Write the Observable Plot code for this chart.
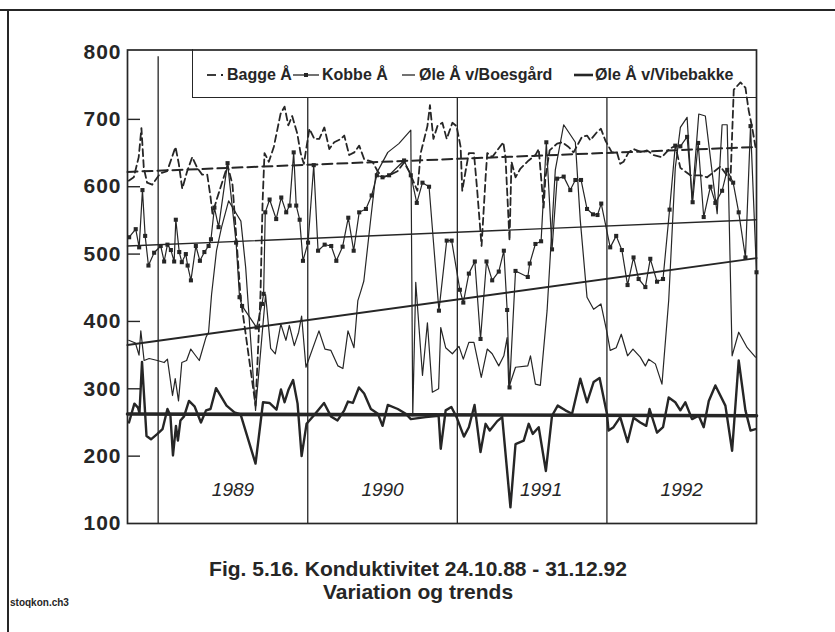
<!DOCTYPE html>
<html><head><meta charset="utf-8">
<script src="https://cdn.jsdelivr.net/npm/d3@7"></script>
<script src="https://cdn.jsdelivr.net/npm/@observablehq/plot@0.6"></script>
<style>
body{margin:0;background:#fff;}
#page{position:relative;width:835px;height:632px;overflow:hidden;font-family:"Liberation Sans",Arial,sans-serif;color:#262626;background:#fff;}
#chart{position:absolute;left:0;top:0;}
.hl{position:absolute;background:#262626;}
#legend{position:absolute;left:192px;top:49px;width:564px;height:49px;box-sizing:border-box;border-left:1.6px solid #262626;border-bottom:1.6px solid #262626;}
.li{position:absolute;top:1px;height:49px;display:flex;align-items:center;font-weight:bold;font-size:16px;white-space:nowrap;}
#title,#subtitle{position:absolute;left:0;width:836px;text-align:center;font-weight:bold;font-size:21px;line-height:20px;}
#file{position:absolute;left:10px;top:597px;font-weight:bold;font-size:10px;}
#chart g[aria-label="y-axis tick label"] text{letter-spacing:1px;}
</style></head><body>
<div id="page">
  <div id="chart"></div>
  <div class="hl" style="left:0;top:9px;width:835px;height:2px"></div>
  <div class="hl" style="left:7px;top:9px;width:1.6px;height:623px"></div>
  <div id="legend"></div>
  <div id="title" style="top:559px">Fig. 5.16. Konduktivitet 24.10.88 - 31.12.92</div>
  <div id="subtitle" style="top:582px">Variation og trends</div>
  <div id="file">stoqkon.ch3</div>
</div>
<script>
const INK = "#262626";
// y ticks
const yTicks = [100, 200, 300, 400, 500, 600, 700, 800];
const yTickMarks = [200, 300, 400, 500, 600, 700];
// year boundaries and labels (label anchor in decimal years)
const yearBounds = [1989, 1990, 1991, 1992];
const yearLabels = ["1989", "1990", "1991", "1992"];
const yearLabelAt = [1989.5, 1990.5, 1991.56, 1992.5];
const seriesNames = ["Bagge Å", "Kobbe Å", "Øle Å v/Boesgård", "Øle Å v/Vibebakke"];

// Bagge Å (decimal year, µS/cm)
const bagT = [1988.803,1988.837,1988.870,1988.888,1988.904,1988.926,1988.960,1989.015,1989.060,1989.116,1989.138,1989.161,1989.194,1989.228,1989.261,1989.294,1989.328,1989.350,1989.363,1989.390,1989.464,1989.497,1989.551,1989.651,1989.684,1989.698,1989.711,1989.740,1989.773,1989.818,1989.845,1989.870,1989.896,1989.930,1989.952,1989.974,1990.011,1990.044,1990.077,1990.111,1990.144,1990.177,1990.222,1990.244,1990.277,1990.311,1990.344,1990.377,1990.433,1990.467,1990.500,1990.544,1990.600,1990.644,1990.677,1990.733,1990.755,1990.800,1990.817,1990.840,1990.867,1990.900,1990.929,1990.967,1990.995,1991.022,1991.033,1991.055,1991.077,1991.111,1991.133,1991.162,1991.189,1991.200,1991.233,1991.267,1991.307,1991.322,1991.349,1991.362,1991.389,1991.422,1991.477,1991.522,1991.544,1991.577,1991.589,1991.617,1991.667,1991.700,1991.744,1991.777,1991.833,1991.867,1991.889,1991.933,1991.960,1991.989,1992.033,1992.067,1992.089,1992.111,1992.145,1992.178,1992.234,1992.268,1992.312,1992.368,1992.413,1992.457,1992.491,1992.558,1992.625,1992.670,1992.759,1992.792,1992.826,1992.848,1992.893,1992.926,1992.948,1992.971,1992.993];
const bagV = [609,614,644,687,628,606,603,620,623,659,634,597,623,644,628,618,618,585,560,580,632,603,436,275,440,577,650,637,659,708,719,691,705,679,650,634,686,671,671,688,656,666,671,676,647,651,661,641,637,623,614,617,623,636,623,594,650,690,721,671,690,695,671,695,690,659,594,623,650,650,594,512,614,650,644,654,666,644,520,637,614,627,639,647,656,569,614,654,664,666,659,651,674,676,669,681,686,669,651,651,634,637,651,656,651,654,647,644,655,661,628,617,617,614,630,620,609,744,755,747,713,688,659];

// Kobbe Å
const kobT = [1988.806,1988.850,1988.873,1988.895,1988.913,1988.935,1988.973,1989.017,1989.040,1989.062,1989.085,1989.107,1989.118,1989.141,1989.158,1989.185,1989.197,1989.219,1989.252,1989.279,1989.309,1989.337,1989.353,1989.376,1989.404,1989.464,1989.521,1989.544,1989.561,1989.658,1989.694,1989.705,1989.716,1989.745,1989.789,1989.823,1989.856,1989.879,1989.906,1989.923,1989.946,1989.968,1990.002,1990.040,1990.069,1990.113,1990.157,1990.191,1990.233,1990.271,1990.307,1990.344,1990.389,1990.427,1990.462,1990.500,1990.544,1990.644,1990.689,1990.729,1990.767,1990.811,1990.877,1990.929,1990.962,1991.017,1991.040,1991.077,1991.117,1991.155,1991.195,1991.233,1991.277,1991.311,1991.333,1991.349,1991.389,1991.471,1991.484,1991.522,1991.560,1991.595,1991.633,1991.667,1991.711,1991.755,1991.789,1991.827,1991.867,1991.907,1991.937,1991.962,1992.022,1992.062,1992.100,1992.138,1992.178,1992.212,1992.257,1992.290,1992.335,1992.375,1992.419,1992.457,1992.491,1992.536,1992.573,1992.610,1992.647,1992.692,1992.725,1992.770,1992.804,1992.844,1992.881,1992.926,1992.960,1993.000];
const kobV = [525,537,510,595,527,483,502,512,489,514,506,489,551,503,488,500,483,461,512,490,503,512,522,569,540,635,517,436,423,391,426,441,562,581,552,584,562,572,651,572,551,490,517,632,505,514,512,490,511,554,505,562,567,587,617,614,617,639,617,576,606,600,416,520,520,447,428,471,489,374,489,461,474,505,417,302,475,466,486,515,519,666,507,612,615,595,610,610,567,559,558,575,510,527,506,454,495,463,451,493,459,463,566,661,660,674,577,665,555,600,576,594,625,606,562,495,690,473];

// Øle Å v/Boesgård
const boeT = [1988.803,1988.848,1988.872,1988.884,1988.906,1988.940,1988.995,1989.040,1989.062,1989.096,1989.114,1989.136,1989.158,1989.190,1989.218,1989.241,1989.275,1989.319,1989.337,1989.357,1989.390,1989.424,1989.471,1989.531,1989.553,1989.585,1989.651,1989.718,1989.752,1989.783,1989.820,1989.854,1989.877,1989.910,1989.939,1989.959,1989.988,1990.075,1990.115,1990.155,1990.202,1990.235,1990.269,1990.309,1990.335,1990.355,1990.375,1990.422,1990.455,1990.535,1990.609,1990.689,1990.702,1990.722,1990.767,1990.800,1990.833,1990.875,1990.889,1990.922,1990.967,1991.011,1991.040,1991.077,1991.111,1991.160,1991.200,1991.233,1991.277,1991.311,1991.333,1991.344,1991.389,1991.471,1991.489,1991.522,1991.555,1991.600,1991.655,1991.711,1991.789,1991.822,1991.867,1991.911,1991.960,1992.000,1992.022,1992.062,1992.096,1992.138,1992.174,1992.223,1992.257,1992.279,1992.324,1992.368,1992.413,1992.457,1992.491,1992.536,1992.569,1992.614,1992.658,1992.737,1992.770,1992.804,1992.837,1992.881,1992.938,1992.993];
const boeV = [372,368,350,386,342,345,342,339,344,290,315,282,339,342,359,352,342,376,384,440,505,540,579,557,549,480,268,440,360,352,396,372,394,364,384,408,332,386,359,357,334,330,386,361,431,445,460,554,618,651,664,684,260,458,320,398,295,300,391,361,352,363,344,369,369,317,359,352,334,349,376,302,332,334,349,307,305,416,625,692,666,550,436,418,426,384,357,361,381,349,359,347,334,344,337,307,431,628,688,703,579,708,705,560,692,692,349,384,361,347];

// Øle Å v/Vibebakke
const vibT = [1988.805,1988.841,1988.865,1988.875,1988.892,1988.922,1988.952,1988.995,1989.029,1989.062,1989.082,1989.099,1989.119,1989.132,1989.149,1989.173,1989.206,1989.243,1989.286,1989.320,1989.350,1989.387,1989.457,1989.510,1989.551,1989.651,1989.701,1989.744,1989.791,1989.821,1989.845,1989.872,1989.902,1989.932,1989.959,1989.992,1990.039,1990.109,1990.155,1990.199,1990.244,1990.269,1990.302,1990.342,1990.377,1990.422,1990.469,1990.500,1990.535,1990.602,1990.655,1990.689,1990.789,1990.875,1990.889,1990.922,1990.960,1990.995,1991.044,1991.077,1991.115,1991.155,1991.189,1991.217,1991.267,1991.300,1991.355,1991.389,1991.444,1991.477,1991.504,1991.544,1991.592,1991.633,1991.671,1991.722,1991.767,1991.822,1991.867,1991.911,1991.951,1992.000,1992.011,1992.044,1992.089,1992.138,1992.178,1992.223,1992.263,1992.285,1992.335,1992.375,1992.413,1992.457,1992.491,1992.524,1992.569,1992.614,1992.647,1992.681,1992.725,1992.792,1992.837,1992.881,1992.926,1992.960,1992.993];
const vibV = [250,278,272,264,340,230,225,233,240,270,260,201,245,223,253,259,282,274,250,268,270,301,275,265,262,189,280,279,269,299,280,299,313,278,200,248,260,279,259,253,268,281,279,302,293,270,263,245,276,270,263,255,258,260,211,268,273,258,229,243,276,206,248,238,252,258,124,218,223,248,233,243,178,260,275,268,263,315,280,310,316,263,238,243,258,221,257,250,245,270,235,243,287,280,268,280,255,260,243,282,305,275,208,342,268,238,240];

// linear trends (start / end of period)
const trendT = [1988.795, 1993.0];
const bagTrend = [622, 659];
const kobTrend = [512, 551];
const boeTrend = [365, 494];
const vibTrend = [262.5, 260];

const pts = (t, v) => t.slice(0, Math.min(t.length, v.length)).map((d, i) => ({t: d, v: v[i]}));

const plot = Plot.plot({
  width: 835, height: 545,
  marginLeft: 127, marginRight: 79, marginTop: 49.5, marginBottom: 22,
  x: {domain: [1988.795, 1993.0], axis: null, label: null},
  y: {domain: [100, 803], axis: null, label: null},
  style: {fontFamily: "'Liberation Sans', Arial, sans-serif", color: INK, background: "transparent", overflow: "visible"},
  marks: [
    Plot.ruleX(yearBounds.slice(0, 1), {x: d => d, y1: 100, y2: 793, stroke: INK, strokeWidth: 1.3}),
    Plot.ruleX(yearBounds.slice(1), {x: d => d, y1: 100, y2: 731, stroke: INK, strokeWidth: 1.3}),
    Plot.line(pts(trendT, vibTrend), {x: "t", y: "v", stroke: INK, strokeWidth: 3.6}),
    Plot.line(pts(trendT, boeTrend), {x: "t", y: "v", stroke: INK, strokeWidth: 2}),
    Plot.line(pts(trendT, kobTrend), {x: "t", y: "v", stroke: INK, strokeWidth: 1.4}),
    Plot.line(pts(trendT, bagTrend), {x: "t", y: "v", stroke: INK, strokeWidth: 2, strokeDasharray: "10,5"}),
    Plot.line(pts(vibT, vibV), {x: "t", y: "v", stroke: INK, strokeWidth: 2.4}),
    Plot.line(pts(boeT, boeV), {x: "t", y: "v", stroke: INK, strokeWidth: 1.2}),
    Plot.line(pts(kobT, kobV), {x: "t", y: "v", stroke: INK, strokeWidth: 1.2}),
    Plot.dot(pts(kobT, kobV), {x: "t", y: "v", symbol: "square", r: 2.3, fill: INK, stroke: "none"}),
    Plot.line(pts(bagT, bagV), {x: "t", y: "v", stroke: INK, strokeWidth: 1.8, strokeDasharray: "7,4"}),
    Plot.text(yearLabels, {x: (d, i) => yearLabelAt[i], text: d => d, frameAnchor: "bottom", dy: -28, fontSize: 19, fontStyle: "italic", fill: INK}),
    Plot.tickY(yTickMarks, {y: d => d, insetRight: 616, stroke: INK, strokeWidth: 1.4}),
    Plot.axisY({ticks: yTicks, tickSize: 0, tickPadding: 6, fontSize: 21, fontWeight: "bold", tickFormat: d => String(d), label: null, fill: INK}),
    Plot.frame({stroke: INK, strokeWidth: 1.7})
  ]
});
document.getElementById("chart").appendChild(plot);

// legend
const leg = document.getElementById("legend");
const items = [
  {name: seriesNames[0], left: 14, sw: 18, svg: `<line x1="0" y1="6" x2="9" y2="6" stroke="${INK}" stroke-width="1.8"/><line x1="14" y1="6" x2="16" y2="6" stroke="${INK}" stroke-width="1.8"/>`},
  {name: seriesNames[1], left: 100, sw: 27, svg: `<line x1="0" y1="6" x2="26" y2="6" stroke="${INK}" stroke-width="1.3"/><rect x="11" y="4" width="4" height="4" fill="${INK}"/>`},
  {name: seriesNames[2], left: 209, sw: 15, svg: `<line x1="0" y1="6" x2="13" y2="6" stroke="${INK}" stroke-width="1.3"/>`},
  {name: seriesNames[3], left: 381, sw: 19, svg: `<line x1="0" y1="6" x2="19" y2="6" stroke="${INK}" stroke-width="2.6"/>`}
];
for (const it of items) {
  const d = document.createElement("div");
  d.className = "li";
  d.style.left = it.left + "px";
  d.innerHTML = `<svg width="${it.sw}" height="12" style="margin-right:2px;overflow:visible">${it.svg}</svg><span>${it.name}</span>`;
  leg.appendChild(d);
}
</script>
</body></html>
